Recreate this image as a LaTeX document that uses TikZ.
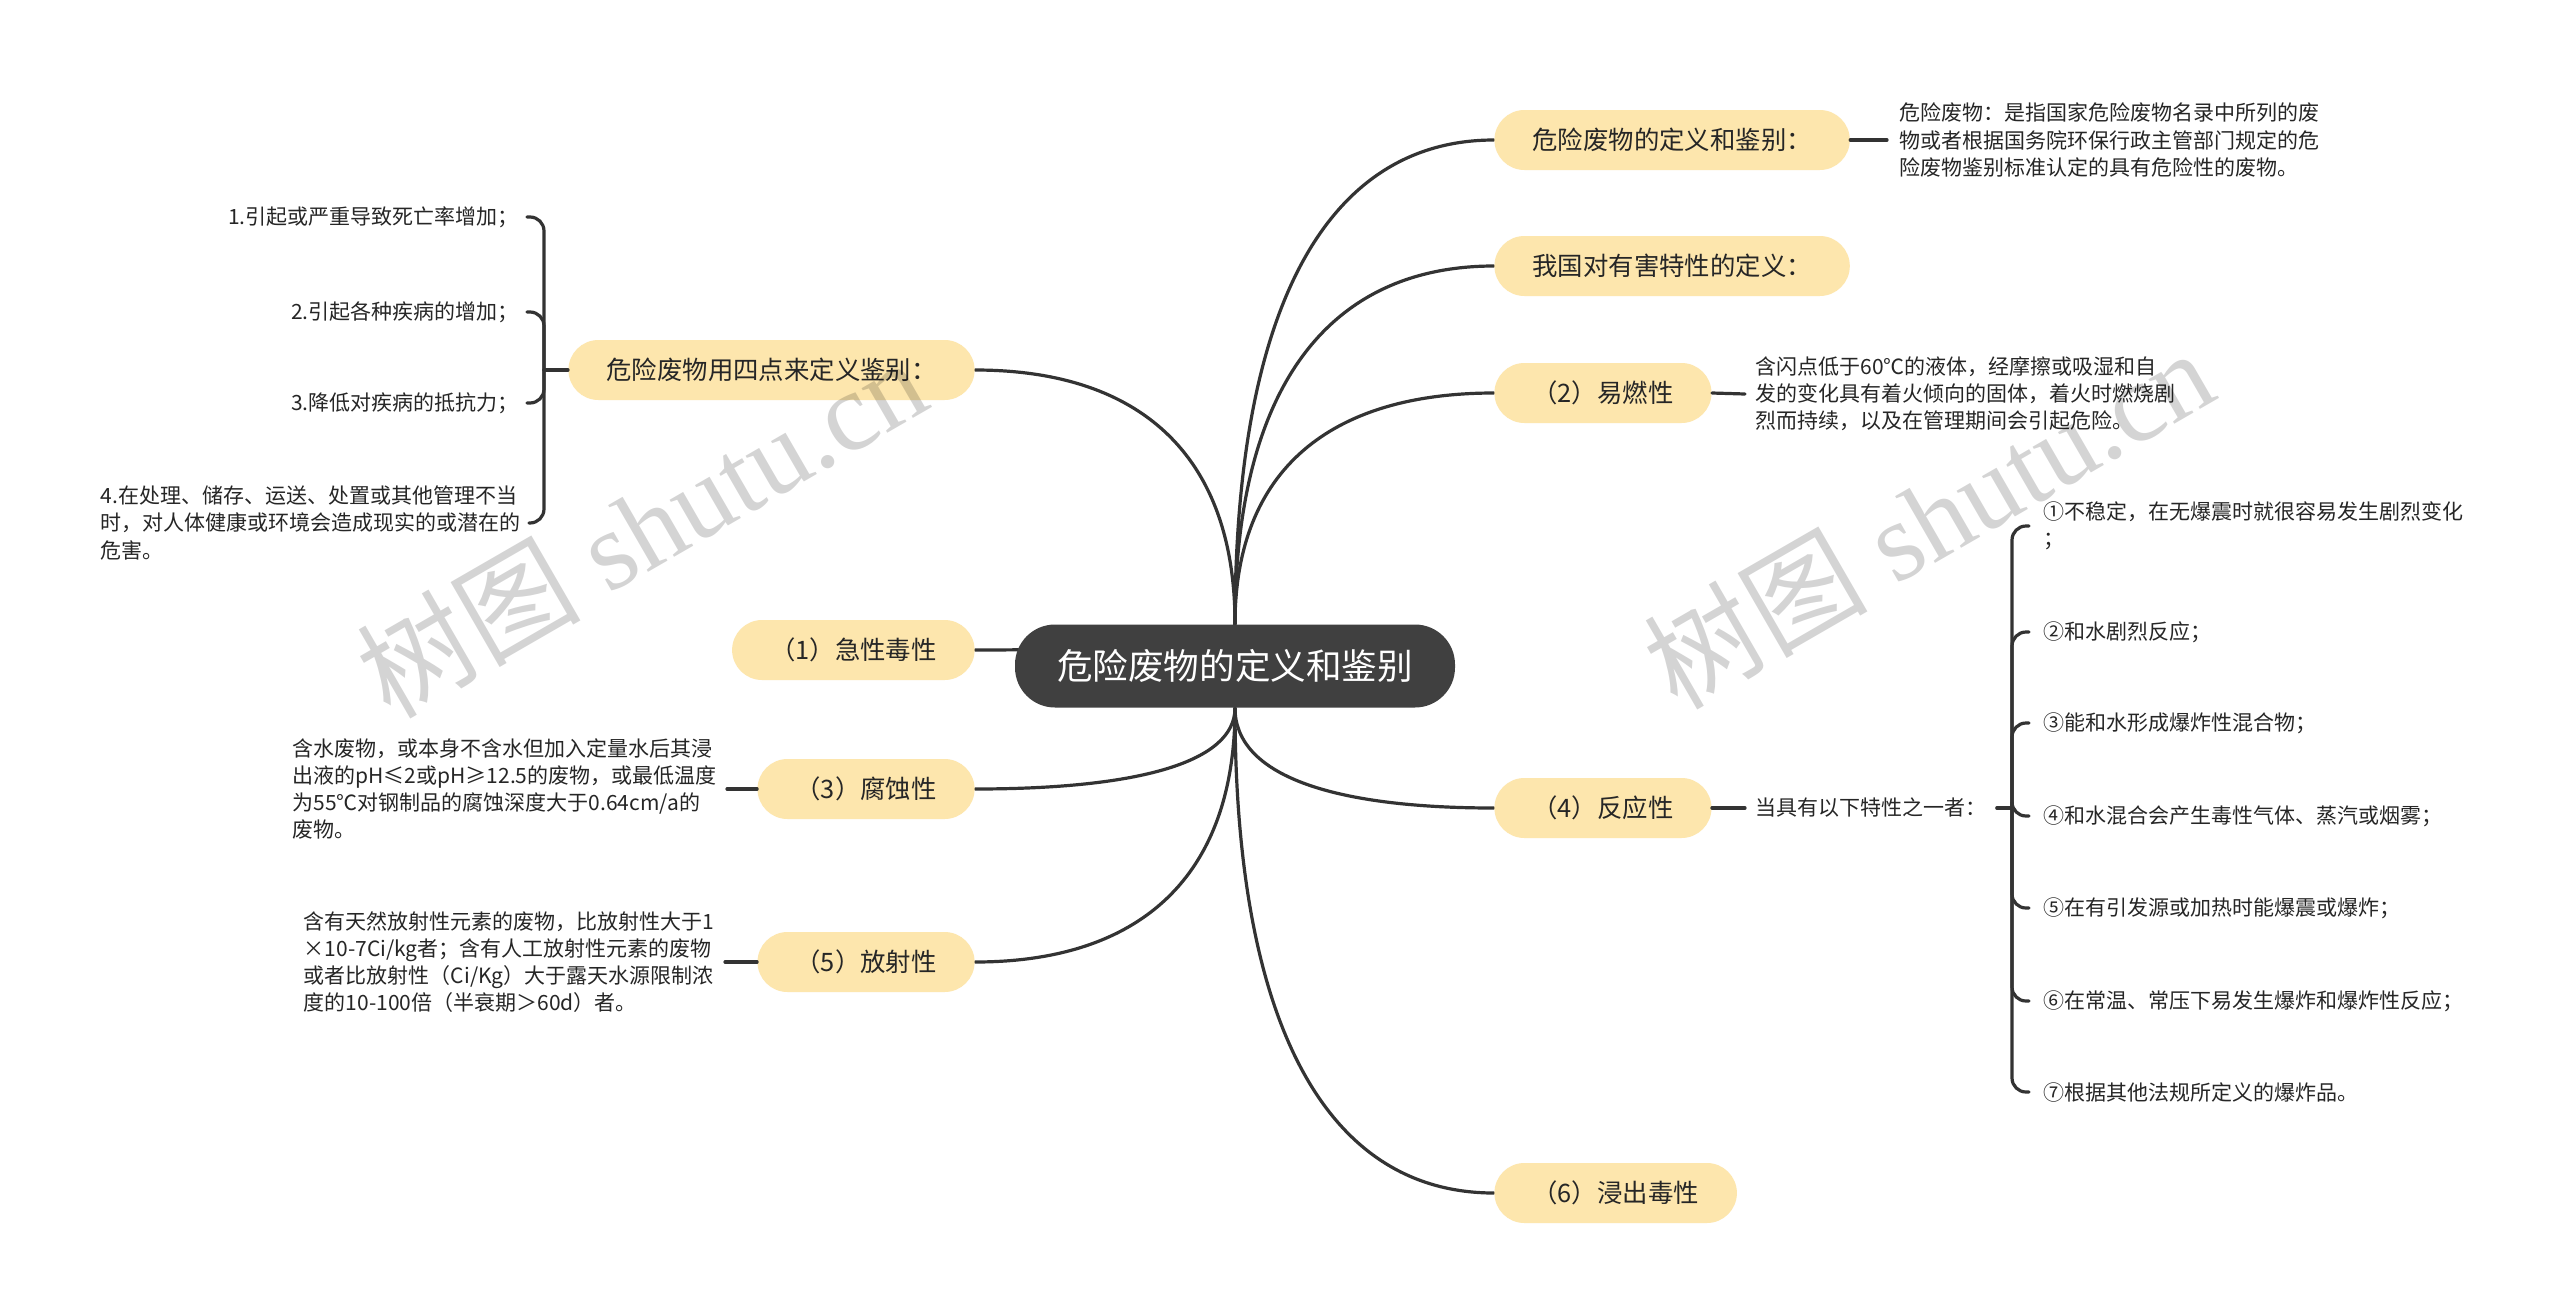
\documentclass[tikz,border=0pt]{standalone}
\usepackage{fontspec}
\setmainfont{Noto Sans CJK SC}
\newfontfamily\wmcjk{Noto Sans CJK SC}
\newfontfamily\wmlat{Liberation Serif}
\usetikzlibrary{backgrounds,calc}
\definecolor{nodeyellow}{RGB}{253,230,173}
\definecolor{rootgray}{RGB}{64,64,64}
\definecolor{linegray}{RGB}{51,51,51}
\definecolor{txt}{RGB}{38,38,38}
\begin{document}
\begin{tikzpicture}[x=0.5pt,y=-0.5pt,
  rootbox/.style={fill=rootgray, rounded corners=20pt, text=white,
    font=\fontsize{17.8}{20}\selectfont, minimum height=41.5pt,
    inner xsep=21pt, inner ysep=0pt},
  topicbox/.style={fill=nodeyellow, rounded corners=15pt, text=txt,
    font=\fontsize{12.7}{15}\selectfont, minimum height=30pt,
    inner xsep=19pt, inner ysep=0pt},
  leaftext/.style={text=txt, font=\fontsize{10.5}{13.6}\selectfont,
    align=left, inner xsep=5pt, inner ysep=2pt},
  itemtext/.style={text=txt, font=\fontsize{10.5}{13.6}\selectfont,
    align=left, inner xsep=4pt, inner ysep=2pt},
  ritemtext/.style={text=txt, font=\fontsize{10.5}{13.6}\selectfont,
    align=left, inner xsep=7pt, inner ysep=2pt},
  conn/.style={draw=linegray, line width=1.6pt, line cap=round},
  watermark/.style={rotate=30, text=black, opacity=0.17, inner sep=0pt}
]
\useasboundingbox (0,0) rectangle (2560,1312);

% root
\node[rootbox] (root) at (1235,666) {危险废物的定义和鉴别};

% right topics
\node[topicbox, anchor=west] (r1) at (1494,140) {危险废物的定义和鉴别：};
\node[topicbox, anchor=west] (r2) at (1494,266) {我国对有害特性的定义：};
\node[topicbox, anchor=west] (r3) at (1494,393) {（2）易燃性};
\node[topicbox, anchor=west] (r4) at (1494,808) {（4）反应性};
\node[topicbox, anchor=west] (r5) at (1494,1193) {（6）浸出毒性};

% left topics
\node[topicbox, anchor=east] (l1) at (975,370) {危险废物用四点来定义鉴别：};
\node[topicbox, anchor=east] (l2) at (975,650) {（1）急性毒性};
\node[topicbox, anchor=east] (l3) at (975,789) {（3）腐蚀性};
\node[topicbox, anchor=east] (l4) at (975,962) {（5）放射性};

% right leaves
\node[leaftext, anchor=west, inner xsep=6pt] (d1) at (1887,140)
  {危险废物：是指国家危险废物名录中所列的废\\物或者根据国务院环保行政主管部门规定的危\\险废物鉴别标准认定的具有危险性的废物。};
\node[leaftext, anchor=west] (d2) at (1745,394)
  {含闪点低于60℃的液体，经摩擦或吸湿和自\\发的变化具有着火倾向的固体，着火时燃烧剧\\烈而持续，以及在管理期间会引起危险。};
\node[leaftext, anchor=west] (cond) at (1745,808) {当具有以下特性之一者：};

\node[ritemtext, anchor=west] (x1) at (2029,526) {①不稳定，在无爆震时就很容易发生剧烈变化\\；};
\node[ritemtext, anchor=west] (x2) at (2029,632) {②和水剧烈反应；};
\node[ritemtext, anchor=west] (x3) at (2029,723) {③能和水形成爆炸性混合物；};
\node[ritemtext, anchor=west] (x4) at (2029,816) {④和水混合会产生毒性气体、蒸汽或烟雾；};
\node[ritemtext, anchor=west] (x5) at (2029,908) {⑤在有引发源或加热时能爆震或爆炸；};
\node[ritemtext, anchor=west] (x6) at (2029,1001) {⑥在常温、常压下易发生爆炸和爆炸性反应；};
\node[ritemtext, anchor=west] (x7) at (2029,1092) {⑦根据其他法规所定义的爆炸品。};

% left leaves
\node[itemtext, anchor=east] (p1) at (527,217) {1.引起或严重导致死亡率增加；};
\node[itemtext, anchor=east] (p2) at (527,312) {2.引起各种疾病的增加；};
\node[itemtext, anchor=east] (p3) at (527,403) {3.降低对疾病的抵抗力；};
\node[itemtext, anchor=east] (p4) at (529,523)
  {4.在处理、储存、运送、处置或其他管理不当\\时，对人体健康或环境会造成现实的或潜在的\\危害。};

\node[leaftext, anchor=east] (d3) at (727,789)
  {含水废物，或本身不含水但加入定量水后其浸\\出液的pH≤2或pH≥12.5的废物，或最低温度\\为55℃对钢制品的腐蚀深度大于0.64cm/a的\\废物。};
\node[leaftext, anchor=east] (d5) at (725,962)
  {含有天然放射性元素的废物，比放射性大于1\\×10-7Ci/kg者；含有人工放射性元素的废物\\或者比放射性（Ci/Kg）大于露天水源限制浓\\度的10-100倍（半衰期＞60d）者。};

% forks
\coordinate (fl) at (544,370);
\coordinate (fr) at (2012,808);

\begin{scope}[on background layer]
  \fill[white] (0,0) rectangle (2560,1312);
  % root curves
  \foreach \t/\s in {r1/north,r2/north,r3/north,r4/south,r5/south}
    \draw[conn] (root.\s) .. controls ($(root.\s)!0.67!(root.\s |- \t.west)$)
      and ($(\t.west)!0.63!(root.\s |- \t.west)$) .. (\t.west);
  \foreach \t/\s in {l1/north,l2/north,l3/south,l4/south}
    \draw[conn] (root.\s) .. controls ($(root.\s)!0.67!(root.\s |- \t.east)$)
      and ($(\t.east)!0.63!(root.\s |- \t.east)$) .. (\t.east);
\end{scope}

% short links
\draw[conn] (r1.east) -- (d1.west);
\draw[conn] (r3.east) -- (d2.west);
\draw[conn] (r4.east) -- (cond.west);
\draw[conn] (l3.west) -- (d3.east);
\draw[conn] (l4.west) -- (d5.east);

% brackets
\draw[conn] (l1.west) -- (fl);
\foreach \c in {p1,p2,p3,p4}
  \draw[conn, rounded corners=7pt] (fl) |- (\c.east);
\draw[conn] (cond.east) -- (fr);
\foreach \c in {x1,x2,x3,x4,x5,x6,x7}
  \draw[conn, rounded corners=7pt] (fr) |- (\c.west);

% watermarks
\node[watermark] (wm1) at (641,527) {\fontsize{56}{56}\selectfont\wmcjk 树图\wmlat{} shutu.cn};
\node[watermark] (wm2) at (1928,518) {\fontsize{56}{56}\selectfont\wmcjk 树图\wmlat{} shutu.cn};
\end{tikzpicture}
\end{document}
